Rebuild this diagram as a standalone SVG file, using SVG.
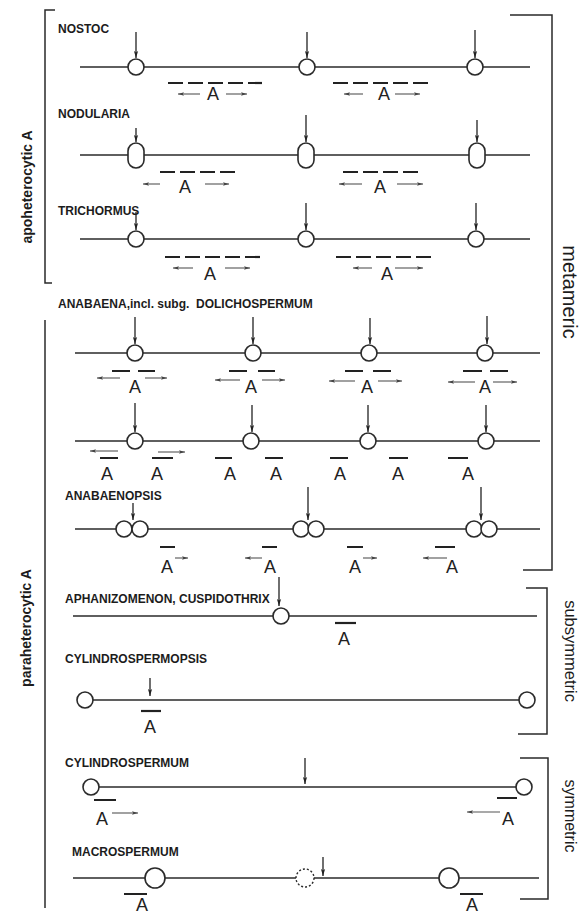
<svg xmlns="http://www.w3.org/2000/svg" width="587" height="918" viewBox="0 0 587 918">
<style>
.bg{fill:#fff}
.ln{stroke:#2a2a2a;stroke-width:1.6;fill:none}
.br{stroke:#2a2a2a;stroke-width:1.5;fill:none}
.cell{fill:#fff;stroke:#2a2a2a;stroke-width:1.6}
.dc{fill:#fff;stroke:#2a2a2a;stroke-width:1.4;stroke-dasharray:2 2}
.lbl{font-family:"Liberation Sans",Arial,sans-serif;font-weight:bold;font-size:12px;fill:#1c1c1c}
.side{font-family:"Liberation Sans",Arial,sans-serif;font-weight:bold;font-size:14px;fill:#1c1c1c;text-anchor:middle}
.rt{font-family:"Liberation Sans",Arial,sans-serif;fill:#1c1c1c;text-anchor:middle}
.a{font-family:"Liberation Sans",Arial,sans-serif;font-size:18px;fill:#222;text-anchor:middle}
.dash{stroke:#222;stroke-width:2.2;stroke-dasharray:15 5;fill:none}
.bar{stroke:#222;stroke-width:2.2;fill:none}
.da{stroke:#222;stroke-width:1.3;fill:none;marker-end:url(#hd)}
.sa{stroke:#555;stroke-width:1.1;fill:none;marker-end:url(#hs)}
</style>
<defs>
<marker id="hd" viewBox="0 0 10 6" refX="10" refY="3" markerWidth="7" markerHeight="5" markerUnits="userSpaceOnUse" orient="auto"><path d="M0,0 L10,3 L0,6 L2,3 Z" fill="#222"/></marker>
<marker id="hs" viewBox="0 0 10 6" refX="10" refY="3" markerWidth="6" markerHeight="4.5" markerUnits="userSpaceOnUse" orient="auto"><path d="M0,0 L10,3 L0,6 L2,3 Z" fill="#444"/></marker>
</defs>
<rect class="bg" x="0" y="0" width="587" height="918"/>

<g id="brackets">
<path class="br" d="M55,10 H45 V283 H52"/>
<path class="br" d="M45,320 V908"/>
<path class="br" d="M510,15 H552 V570 H523"/>
<path class="br" d="M526,588 H547 V734 H518"/>
<path class="br" d="M520,758 H548 V899 H520"/>
<text class="side" transform="translate(31.5,187) rotate(-90)">apoheterocytic A</text>
<text class="side" transform="translate(31,628) rotate(-90)">paraheterocytic A</text>
<text class="rt" font-size="20" transform="translate(563,292) rotate(90)">metameric</text>
<text class="rt" font-size="16.5" transform="translate(565,651) rotate(90)">subsymmetric</text>
<text class="rt" font-size="16" transform="translate(565,816) rotate(90)">symmetric</text>
</g>

<g id="nostoc">
<text class="lbl" x="58" y="33">NOSTOC</text>
<line class="ln" x1="80" y1="67" x2="530" y2="67"/>
<circle class="cell" cx="136" cy="67" r="8"/>
<circle class="cell" cx="307" cy="67" r="8"/>
<circle class="cell" cx="475" cy="67" r="8"/>
<line class="dash" x1="168" y1="83" x2="262" y2="83"/>
<line class="dash" x1="333" y1="83" x2="430" y2="83"/>
<text class="a" x="213" y="100">A</text>
<text class="a" x="384" y="100">A</text>
</g>

<g id="nodularia">
<text class="lbl" x="58" y="118">NODULARIA</text>
<line class="ln" x1="80" y1="155" x2="530" y2="155"/>
<rect class="cell" x="128" y="143" width="16" height="25" rx="8"/>
<rect class="cell" x="298" y="143" width="16" height="25" rx="8"/>
<rect class="cell" x="469" y="143" width="16" height="25" rx="8"/>
<line class="dash" x1="160" y1="172" x2="238" y2="172"/>
<line class="dash" x1="343" y1="172" x2="420" y2="172"/>
<text class="a" x="185" y="193">A</text>
<text class="a" x="380" y="193">A</text>
</g>

<g id="trichormus">
<text class="lbl" x="58" y="215">TRICHORMUS</text>
<line class="ln" x1="80" y1="239" x2="530" y2="239"/>
<circle class="cell" cx="136" cy="239" r="8"/>
<circle class="cell" cx="306" cy="239" r="8"/>
<circle class="cell" cx="476" cy="239" r="8"/>
<line class="dash" x1="165" y1="257" x2="262" y2="257"/>
<line class="dash" x1="336" y1="257" x2="435" y2="257"/>
<text class="a" x="210" y="280">A</text>
<text class="a" x="387" y="280">A</text>
</g>

<g id="anabaena">
<text class="lbl" x="58" y="308">ANABAENA,incl. subg.&#160; DOLICHOSPERMUM</text>
<line class="ln" x1="75" y1="353" x2="540" y2="353"/>
<circle class="cell" cx="135" cy="353" r="8"/>
<circle class="cell" cx="253" cy="353" r="8"/>
<circle class="cell" cx="369" cy="353" r="8"/>
<circle class="cell" cx="485" cy="353" r="8"/>
<path class="bar" d="M112,371H130M138,371H155M229,371H247M258,371H275M345,371H363M373,371H391M463,371H482M490,371H508"/>
<text class="a" x="135" y="393">A</text>
<text class="a" x="251" y="393">A</text>
<text class="a" x="367" y="393">A</text>
<text class="a" x="485" y="393">A</text>
</g>

<g id="anabaena-2">
<line class="ln" x1="75" y1="441" x2="540" y2="441"/>
<circle class="cell" cx="135" cy="441" r="8"/>
<circle class="cell" cx="251" cy="441" r="8"/>
<circle class="cell" cx="368" cy="441" r="8"/>
<circle class="cell" cx="486" cy="441" r="8"/>
<path class="bar" d="M100,458H118M152,458H173M215,458H232M265,458H283M330,458H348M389,458H408M448,458H468"/>
<text class="a" x="107" y="480">A</text>
<text class="a" x="157" y="480">A</text>
<text class="a" x="230" y="480">A</text>
<text class="a" x="276" y="480">A</text>
<text class="a" x="340" y="480">A</text>
<text class="a" x="398" y="480">A</text>
<text class="a" x="468" y="480">A</text>
</g>

<g id="anabaenopsis">
<text class="lbl" x="65" y="500">ANABAENOPSIS</text>
<line class="ln" x1="75" y1="529" x2="540" y2="529"/>
<circle class="cell" cx="124" cy="529" r="8"/>
<circle class="cell" cx="140" cy="529" r="8"/>
<circle class="cell" cx="301" cy="529" r="8"/>
<circle class="cell" cx="316" cy="529" r="8"/>
<circle class="cell" cx="474" cy="529" r="8"/>
<circle class="cell" cx="489" cy="529" r="8"/>
<path class="bar" d="M160,547H175M262,547H277M347,547H363M435,547H455"/>
<text class="a" x="167" y="573">A</text>
<text class="a" x="270" y="573">A</text>
<text class="a" x="355" y="573">A</text>
<text class="a" x="452" y="573">A</text>
</g>

<g id="aphanizomenon">
<text class="lbl" x="65" y="603">APHANIZOMENON, CUSPIDOTHRIX</text>
<line class="ln" x1="73" y1="616" x2="537" y2="616"/>
<circle class="cell" cx="281" cy="616" r="8"/>
<path class="bar" d="M335,623H356"/>
<text class="a" x="344" y="645">A</text>
</g>

<g id="cylindrospermopsis">
<text class="lbl" x="65" y="663">CYLINDROSPERMOPSIS</text>
<line class="ln" x1="85" y1="700" x2="527" y2="700"/>
<circle class="cell" cx="85" cy="700" r="8"/>
<circle class="cell" cx="527" cy="700" r="8"/>
<path class="bar" d="M141,711H161"/>
<text class="a" x="150" y="733">A</text>
</g>

<g id="cylindrospermum">
<text class="lbl" x="65" y="767">CYLINDROSPERMUM</text>
<line class="ln" x1="91" y1="787" x2="524" y2="787"/>
<circle class="cell" cx="91" cy="787" r="8"/>
<circle class="cell" cx="524" cy="787" r="8"/>
<path class="bar" d="M94,800H116M497,798H517"/>
<text class="a" x="102" y="825">A</text>
<text class="a" x="508" y="825">A</text>
</g>

<g id="macrospermum">
<text class="lbl" x="72" y="856">MACROSPERMUM</text>
<line class="ln" x1="73" y1="878" x2="539" y2="878"/>
<circle class="cell" cx="155" cy="878" r="10"/>
<circle class="dc" cx="305" cy="878" r="9"/>
<circle class="cell" cx="449" cy="878" r="10"/>
<path class="bar" stroke-width="3" d="M124,894H147M460,894H483"/>
<text class="a" font-size="17" x="142" y="911">A</text>
<text class="a" font-size="17" x="472" y="911">A</text>
</g>

<g id="connectors">
<line class="da" x1="136" y1="32" x2="136" y2="58"/>
<line class="da" x1="307" y1="32" x2="307" y2="58"/>
<line class="da" x1="475" y1="30" x2="475" y2="58"/>
<line class="da" x1="136" y1="128" x2="136" y2="142"/>
<line class="da" x1="306" y1="115" x2="306" y2="142"/>
<line class="da" x1="477" y1="120" x2="477" y2="142"/>
<line class="da" x1="136" y1="212" x2="136" y2="230"/>
<line class="da" x1="306" y1="203" x2="306" y2="230"/>
<line class="da" x1="476" y1="203" x2="476" y2="230"/>
<line class="da" x1="135" y1="317" x2="135" y2="344"/>
<line class="da" x1="253" y1="317" x2="253" y2="344"/>
<line class="da" x1="370" y1="318" x2="370" y2="344"/>
<line class="da" x1="487" y1="316" x2="487" y2="344"/>
<line class="da" x1="135" y1="403" x2="135" y2="432"/>
<line class="da" x1="252" y1="405" x2="252" y2="432"/>
<line class="da" x1="368" y1="405" x2="368" y2="432"/>
<line class="da" x1="486" y1="405" x2="486" y2="432"/>
<line class="da" x1="133" y1="503" x2="133" y2="520"/>
<line class="da" x1="308" y1="487" x2="308" y2="520"/>
<line class="da" x1="481" y1="487" x2="481" y2="520"/>
<line class="da" x1="279" y1="577" x2="279" y2="606"/>
<line class="da" x1="150" y1="678" x2="150" y2="696"/>
<line class="da" x1="305" y1="758" x2="305" y2="784"/>
<line class="da" x1="323" y1="857" x2="323" y2="876"/>
<line class="sa" x1="200" y1="94" x2="178" y2="94"/>
<line class="sa" x1="226" y1="94" x2="247" y2="94"/>
<line class="sa" x1="363" y1="94" x2="344" y2="94"/>
<line class="sa" x1="395" y1="94" x2="420" y2="94"/>
<line class="sa" x1="160" y1="184" x2="143" y2="184"/>
<line class="sa" x1="205" y1="184" x2="229" y2="184"/>
<line class="sa" x1="362" y1="184" x2="339" y2="184"/>
<line class="sa" x1="397" y1="184" x2="423" y2="184"/>
<line class="sa" x1="193" y1="268" x2="173" y2="268"/>
<line class="sa" x1="225" y1="268" x2="250" y2="268"/>
<line class="sa" x1="372" y1="268" x2="353" y2="268"/>
<line class="sa" x1="395" y1="268" x2="423" y2="268"/>
<line class="sa" x1="120" y1="378" x2="97" y2="378"/>
<line class="sa" x1="145" y1="378" x2="167" y2="378"/>
<line class="sa" x1="240" y1="380" x2="215" y2="380"/>
<line class="sa" x1="262" y1="380" x2="285" y2="380"/>
<line class="sa" x1="355" y1="381" x2="329" y2="381"/>
<line class="sa" x1="378" y1="381" x2="402" y2="381"/>
<line class="sa" x1="475" y1="382" x2="448" y2="382"/>
<line class="sa" x1="493" y1="382" x2="517" y2="382"/>
<line class="sa" x1="118" y1="451" x2="90" y2="451"/>
<line class="sa" x1="158" y1="452" x2="185" y2="452"/>
<line class="sa" x1="175" y1="558" x2="188" y2="558"/>
<line class="sa" x1="262" y1="558" x2="245" y2="558"/>
<line class="sa" x1="363" y1="558" x2="377" y2="558"/>
<line class="sa" x1="447" y1="558" x2="423" y2="558"/>
<line class="sa" x1="112" y1="813" x2="138" y2="813"/>
<line class="sa" x1="500" y1="812" x2="467" y2="812"/>
</g>
</svg>
